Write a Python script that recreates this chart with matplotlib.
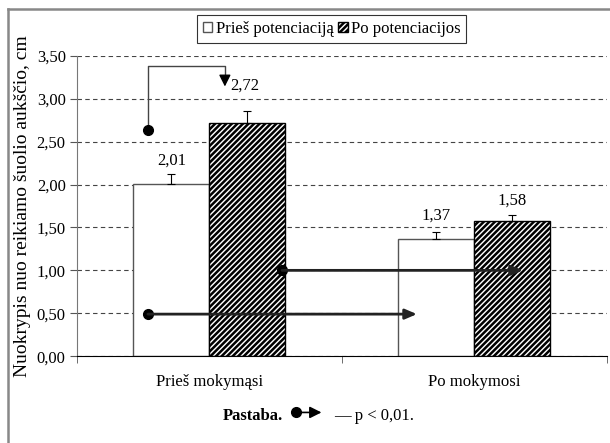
import matplotlib
matplotlib.use("Agg")
import matplotlib.pyplot as plt
from matplotlib.lines import Line2D
import numpy as np

plt.rcParams['font.family'] = ['Liberation Serif', 'DejaVu Serif']
plt.rcParams['hatch.linewidth'] = 1.8

categories = ["Prieš mokymąsi", "Po mokymosi"]
series_names = ["Prieš potenciaciją", "Po potenciacijos"]
before_vals = [2.01, 1.37]
after_vals = [2.72, 1.58]
before_err = [0.11, 0.08]
after_err = [0.14, 0.07]
y_ticks = [0.0, 0.5, 1.0, 1.5, 2.0, 2.5, 3.0, 3.5]

fig = plt.figure(figsize=(6.10, 4.43), dpi=100)
ax = fig.add_axes([0.126, 0.196, 0.869, 0.678])

x = np.arange(len(categories))
w = 0.287
fs = 12

def fmt(v):
    return f"{v:.2f}".replace(".", ",")

ax.bar(x - w / 2, before_vals, w, color="white", edgecolor="#555555",
       linewidth=1.0, label=series_names[0], zorder=2)
ax.bar(x + w / 2, after_vals, w, color="white", edgecolor="black",
       hatch="//////", linewidth=1.0, label=series_names[1], zorder=2)
ax.errorbar(x - w / 2, before_vals, yerr=[np.zeros(2), before_err], fmt="none",
            ecolor="black", elinewidth=0.8, capsize=3, capthick=0.8, zorder=3)
ax.errorbar(x + w / 2, after_vals, yerr=[np.zeros(2), after_err], fmt="none",
            ecolor="black", elinewidth=0.8, capsize=3, capthick=0.8, zorder=3)

for i, (xi, v, e) in enumerate(zip(x - w / 2, before_vals, before_err)):
    off = 0.07 if i == 0 else 0.09
    ax.text(xi, v + e + off, fmt(v), ha="center", va="bottom", fontsize=fs)
for i, (xi, v, e) in enumerate(zip(x + w / 2, after_vals, after_err)):
    off = 0.2 if i == 0 else 0.07
    ax.text(xi - (0.01 if i == 0 else 0), v + e + off, fmt(v), ha="center",
            va="bottom", fontsize=fs)

ax.set_xlim(-0.5, 1.5)
ax.set_ylim(0, 3.5)
ax.set_yticks(y_ticks)
ax.set_yticklabels([fmt(t) for t in y_ticks], fontsize=fs)
ax.set_xticks(x)
ax.set_xticklabels(categories, fontsize=fs)
ax.tick_params(axis="x", length=0, pad=13)
ax.set_xticks([-0.5, 0.5, 1.5], minor=True)
ax.tick_params(axis="x", which="minor", length=5, color="#555555")
ax.tick_params(axis="y", length=5, color="#555555", pad=3)
ax.yaxis.grid(True, linestyle=(0, (4, 3)), color="#444444", linewidth=0.8)
ax.set_axisbelow(True)
for s in ["top", "right"]:
    ax.spines[s].set_visible(False)
ax.spines["left"].set_color("#777777")
ax.spines["bottom"].set_color("black")
ax.set_ylabel("Nuokrypis nuo reikiamo šuolio aukščio, cm", fontsize=14, labelpad=4)

# significance markers: bracket within first group, arrows between groups
ax.plot([-0.232, -0.232, 0.0585, 0.0585], [2.63, 3.38, 3.38, 3.22],
        color="#444444", lw=1.0, zorder=4)
ax.plot(-0.232, 2.63, "o", color="black", ms=7, zorder=5)
ax.annotate("", xy=(0.0585, 3.11), xytext=(0.0585, 3.24),
            arrowprops=dict(arrowstyle="-|>,head_length=0.7,head_width=0.35",
                            color="black", lw=1.0), zorder=5)

for x0, x1, yv in [(-0.232, 0.783, 0.49), (0.274, 1.183, 1.0)]:
    ax.plot(x0, yv, "o", color="black", ms=7, zorder=5)
    ax.annotate("", xy=(x1, yv), xytext=(x0, yv),
                arrowprops=dict(arrowstyle="-|>,head_length=0.7,head_width=0.3",
                                color="#222222", lw=2.0, shrinkA=0, shrinkB=0),
                zorder=5)

leg = ax.legend(loc="upper center", bbox_to_anchor=(0.481, 1.136), ncol=2,
                fontsize=fs, frameon=True, fancybox=False, edgecolor="black",
                handlelength=0.55, handleheight=0.55, handletextpad=0.2,
                columnspacing=0.3, borderpad=0.35, borderaxespad=0)
leg.get_frame().set_linewidth(0.8)

# note below the chart
fig.text(0.366, 0.062, "Pastaba.", fontsize=fs, fontweight="bold",
         ha="left", va="center")
fig.add_artist(Line2D([0.485], [0.069], marker="o", color="black", ms=7,
                      transform=fig.transFigure))
ax.annotate("", xy=(0.527, 0.069), xytext=(0.485, 0.069), xycoords="figure fraction",
            textcoords="figure fraction",
            arrowprops=dict(arrowstyle="-|>,head_length=0.7,head_width=0.35",
                            color="black", lw=1.2, shrinkA=0, shrinkB=0))
fig.text(0.548, 0.062, "— p < 0,01.", fontsize=fs, ha="left", va="center")

# outer frame lines
fig.add_artist(Line2D([8 / 610, 1.0], [1 - 9 / 443, 1 - 9 / 443],
                      color="#888888", lw=1.8, transform=fig.transFigure))
fig.add_artist(Line2D([8 / 610, 8 / 610], [0, 1 - 9 / 443],
                      color="#888888", lw=1.8, transform=fig.transFigure))

fig.savefig("out.png", dpi=100)
